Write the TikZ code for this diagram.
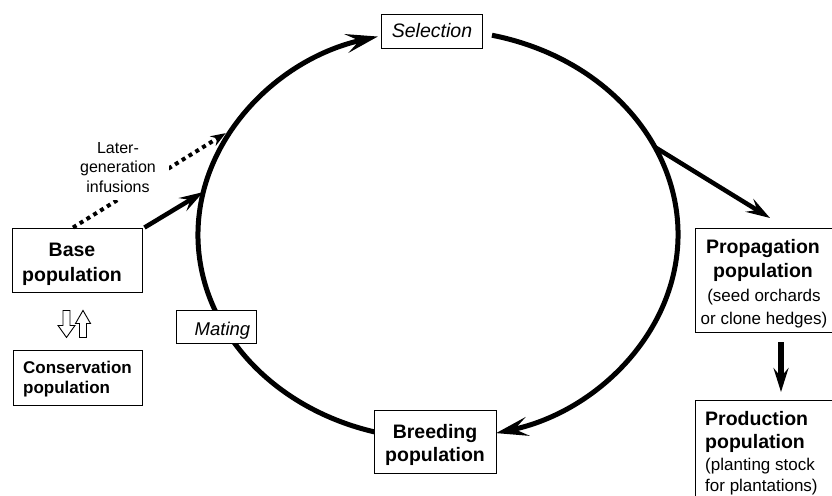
\documentclass[tikz,border=0pt]{standalone}
\usepackage{fontspec}
\setmainfont{Liberation Sans}
\usetikzlibrary{arrows.meta,calc}
\begin{document}
\begin{tikzpicture}[x=1pt,y=1pt,
  box/.style={draw=black, line width=0.9pt, fill=white, inner sep=0pt},
  openbox/.style={fill=white, inner sep=0pt},
  boxline/.style={draw=black, line width=0.9pt},
  bigbold/.style={font=\fontsize{19.5}{24}\selectfont\bfseries, align=center, inner sep=0pt},
  smallbold/.style={font=\fontsize{17}{20}\selectfont\bfseries, align=left, inner sep=0pt},
  reg/.style={font=\fontsize{17}{22.3}\selectfont, align=center, inner sep=0pt},
  ital/.style={font=\fontsize{19.5}{24}\selectfont\itshape, inner sep=0pt},
  ringarrow/.style={line width=5pt, -{Stealth[length=32pt, width=19pt, inset=13pt]}},
  bigarrow/.style={line width=4.5pt, -{Stealth[length=24pt, width=15pt, inset=9pt]}},
  dotarrow/.style={line width=4pt, dash pattern=on 4pt off 4pt, -{Stealth[length=15pt, width=11pt, inset=5pt]}},
  hollow/.style={draw=black, line width=0.9pt, fill=white, line join=miter}
]
\useasboundingbox (0,0) rectangle (832,-495);

% cycle
\coordinate (C) at (438,-234.6);
\draw[ringarrow] ([shift={(258:240 and 204.6)}]C)
  arc[start angle=258, end angle=104.5, x radius=240, y radius=204.6];
\draw[ringarrow] ([shift={(77:240 and 204.6)}]C)
  arc[start angle=77, end angle=-76, x radius=240, y radius=204.6];

% boxes
\node[box, minimum width=101pt, minimum height=34pt] (sel) at (431.5,-31) {};
\node[ital] (selt) at (432,-30.5) {Selection};

\node[box, minimum width=80pt, minimum height=33pt] (mat) at (216,-326.5) {};
\node[ital, font=\fontsize{18.5}{22}\selectfont\itshape] (matt) at (222.5,-330.3) {Mating};

\node[box, minimum width=122pt, minimum height=63pt] (bre) at (435,-441.5) {};
\node[bigbold, font=\fontsize{19.5}{23.5}\selectfont\bfseries] (bret) at (435,-445) {Breeding\\population};

\node[box, minimum width=130pt, minimum height=64pt] (base) at (77,-260) {};
\node[bigbold, font=\fontsize{19.5}{25}\selectfont\bfseries] (baset) at (72,-264.3) {Base\\population};

\node[box, minimum width=129pt, minimum height=55pt] (cons) at (77.5,-377.5) {};
\node[smallbold, anchor=west] (const) at (23,-378.9) {Conservation\\population};

% boxes running past the right edge (right side not shown)
\node[openbox, anchor=north west, minimum width=160pt, minimum height=104pt] (prop) at (695,-228) {};
\draw[boxline] (prop.north east) -- (prop.north west) -- (prop.south west) -- (prop.south east);
\node[bigbold] (propt1) at (763,-260) {Propagation\\ population};
\node[reg] (propt2) at (764,-308.5) {(seed orchards\\or clone hedges)};

\node[openbox, anchor=north west, minimum width=160pt, minimum height=120pt] (prod) at (695,-400) {};
\draw[boxline] (prod.north east) -- (prod.north west) -- (prod.south west);
\node[bigbold, align=left, anchor=west, font=\fontsize{19.5}{23.3}\selectfont\bfseries] (prodt1) at (705,-432.3) {Production\\population};
\node[reg, align=left, anchor=west, font=\fontsize{17}{21.7}\selectfont] (prodt2) at (705,-476.6) {(planting stock\\for plantations)};

% connectors
\coordinate (e168) at ([shift={(168:240 and 204.6)}]C);
\draw[bigarrow] ($(base.north east)+(2,0)$) -- (e168);

\coordinate (e149) at ([shift={(148.9:240 and 204.6)}]C);
\draw[dotarrow, shorten >=8pt] ($(base.north)+(-4,0)$) -- (e149);
\node[font=\fontsize{16}{19.7}\selectfont, align=center, fill=white, inner xsep=13pt, inner ysep=7pt] (inf) at (118,-167.3) {Later-\\generation\\infusions};

\coordinate (e25) at ([shift={(25.3:240 and 204.6)}]C);
\draw[bigarrow] (e25) -- ($(prop.north west)+(75,10)$);

\draw[bigarrow, line width=5.5pt] ($(prop.south west)+(86,-10)$) -- ($(prod.north west)+(86,8)$);

% hollow exchange arrows
\coordinate (hd) at ($(base.south)+(-10.5,-18)$);
\coordinate (hu) at ($(base.south)+(6,-18)$);
\draw[hollow] ($(hd)+(-3.5,0)$) -- ++(7,0) -- ++(0,-15) -- ++(5,0) -- ++(-8.5,-12) -- ++(-8.5,12) -- ++(5,0) -- cycle;
\draw[hollow] (hu) -- ++(7.5,-13) -- ++(-4,0) -- ++(0,-14) -- ++(-7,0) -- ++(0,14) -- ++(-4,0) -- cycle;
\end{tikzpicture}
\end{document}
